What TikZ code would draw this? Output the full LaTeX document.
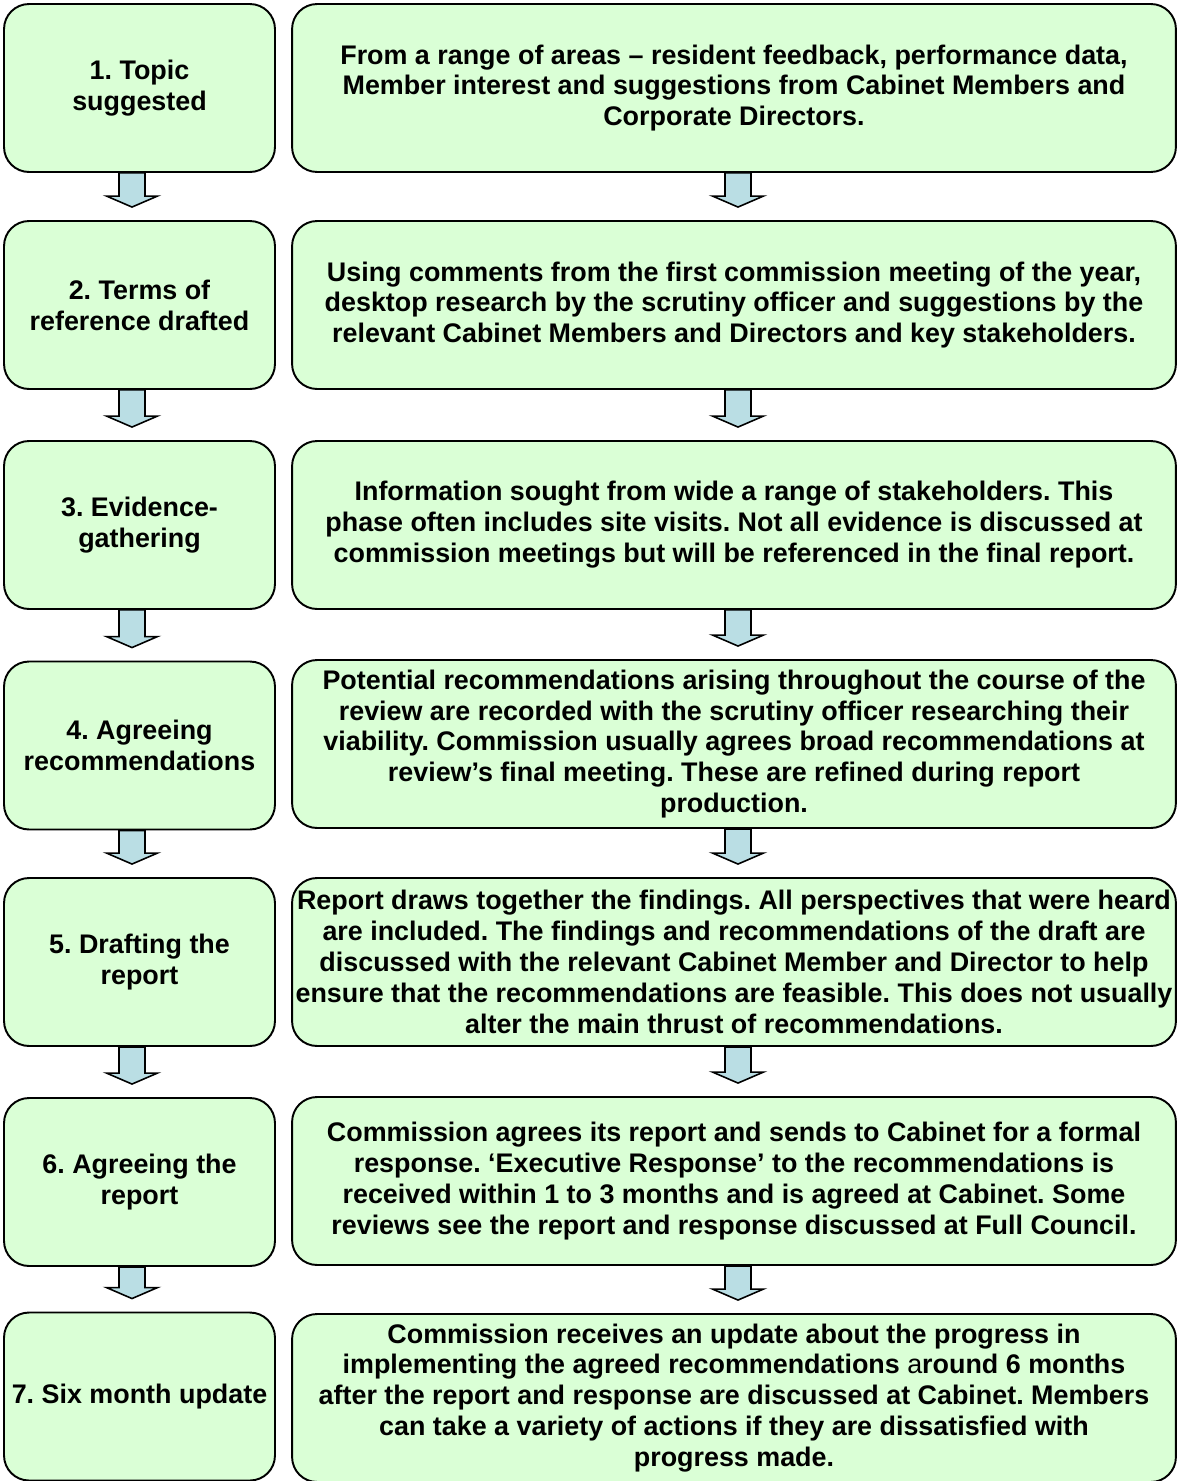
\documentclass[tikz,border=0pt]{standalone}
\usepackage{fontspec}
\setmainfont{Liberation Sans}
\usetikzlibrary{calc}
\usepackage{tikz}
\frenchspacing

\definecolor{boxgreen}{RGB}{218,255,214}
\definecolor{arrowblue}{RGB}{186,222,228}

\newcommand{\flowarrow}[3][0cm]{%
  \filldraw[arrowfill] let \p1=($(#2.south)+(#1,0cm)$), \p2=(#3.north) in
    (\x1-0.26cm,\y1) -- (\x1+0.26cm,\y1) -- (\x1+0.26cm,\y2+0.48cm) -- (\x1+0.51cm,\y2+0.48cm)
    -- (\x1,\y2+0.26cm) -- (\x1-0.51cm,\y2+0.48cm) -- (\x1-0.26cm,\y2+0.48cm) -- cycle;}

\begin{document}
\begin{tikzpicture}[x=0.02cm, y=-0.02cm,
    stagebox/.style={draw, line width=1.1pt, fill=boxgreen, rounded corners=0.5cm, align=center,
        minimum width=5.42cm, minimum height=3.36cm, inner sep=2pt,
        font=\fontsize{15.3}{17.6}\selectfont\bfseries},
    infobox/.style={stagebox, minimum width=17.68cm},
    arrowfill/.style={fill=arrowblue, draw=black, line width=0.9pt, line join=miter}]
    \useasboundingbox (0,0) rectangle (1177,1481);

    \node[stagebox] (s1) at (139.5,88) {1. Topic\\suggested};
    \node[infobox] (d1) at (734,88) {From a range of areas -- resident feedback, performance data,\\Member interest and suggestions from Cabinet Members and\\Corporate Directors.};

    \node[stagebox] (s2) at (139.5,305) {2. Terms of\\reference drafted};
    \node[infobox] (d2) at (734,305) {Using comments from the first commission meeting of the year,\\desktop research by the scrutiny officer and suggestions by the\\relevant Cabinet Members and Directors and key stakeholders.};

    \node[stagebox] (s3) at (139.5,525) {3. Evidence-\\gathering};
    \node[infobox] (d3) at (734,525) {Information sought from wide a range of stakeholders. This\\phase often includes site visits. Not all evidence is discussed at\\commission meetings but will be referenced in the final report.};

    \node[stagebox] (s4) at (139.5,745.5) {4. Agreeing\\recommendations};
    \node[infobox] (d4) at (734,744) {Potential recommendations arising throughout the course of the\\review are recorded with the scrutiny officer researching their\\viability. Commission usually agrees broad recommendations at\\review’s final meeting. These are refined during report\\production.};

    \node[stagebox] (s5) at (139.5,962) {5. Drafting the\\report};
    \node[infobox] (d5) at (734,962) {Report draws together the findings. All perspectives that were heard\\are included. The findings and recommendations of the draft are\\discussed with the relevant Cabinet Member and Director to help\\ensure that the recommendations are feasible. This does not usually\\alter the main thrust of recommendations.};

    \node[stagebox] (s6) at (139.5,1182) {6. Agreeing the\\report};
    \node[infobox] (d6) at (734,1181) {Commission agrees its report and sends to Cabinet for a formal\\response. ‘Executive Response’ to the recommendations is\\received within 1 to 3 months and is agreed at Cabinet. Some\\reviews see the report and response discussed at Full Council.};

    \node[stagebox] (s7) at (139.5,1396.5) {7. Six month update};
    \node[infobox] (d7) at (734,1398) {Commission receives an update about the progress in\\implementing the agreed recommendations {\mdseries a}round 6 months\\after the report and response are discussed at Cabinet. Members\\can take a variety of actions if they are dissatisfied with\\progress made.};

    % arrows down both columns
    \flowarrow[-0.15cm]{s1}{s2}
    \flowarrow[-0.15cm]{s2}{s3}
    \flowarrow[-0.15cm]{s3}{s4}
    \flowarrow[-0.15cm]{s4}{s5}
    \flowarrow[-0.15cm]{s5}{s6}
    \flowarrow[-0.15cm]{s6}{s7}
    \flowarrow[0.08cm]{d1}{d2}
    \flowarrow[0.08cm]{d2}{d3}
    \flowarrow[0.08cm]{d3}{d4}
    \flowarrow[0.08cm]{d4}{d5}
    \flowarrow[0.08cm]{d5}{d6}
    \flowarrow[0.08cm]{d6}{d7}
\end{tikzpicture}
\end{document}
